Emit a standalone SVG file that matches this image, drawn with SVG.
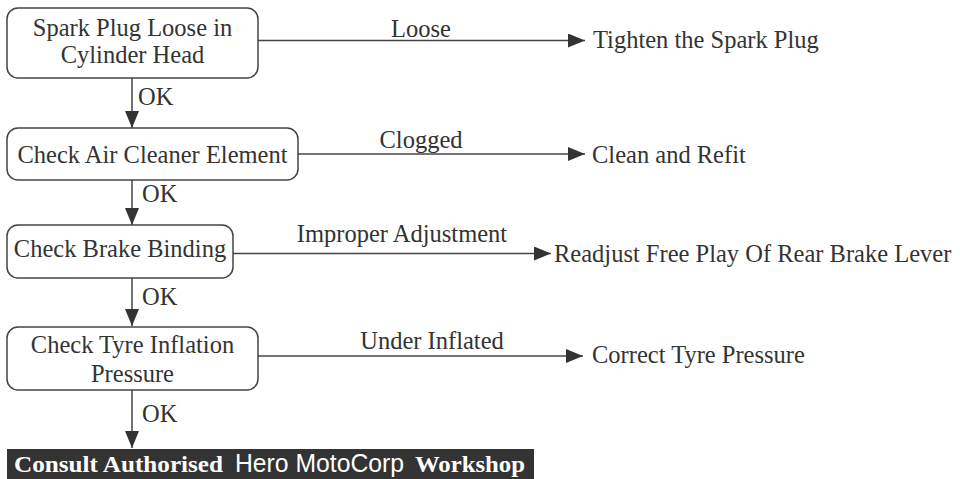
<svg xmlns="http://www.w3.org/2000/svg" width="960" height="479" viewBox="0 0 960 479">
<style>
.box{fill:#fff;stroke:#444;stroke-width:1.5}
.t{font-family:"Liberation Serif",serif;font-size:24.5px;fill:#333}
.m{text-anchor:middle}
.ln{stroke:#444;stroke-width:1.5;fill:none}
.bb{font-family:"Liberation Serif",serif;font-weight:bold;font-size:24px;fill:#fff}
.bs{font-family:"Liberation Sans",sans-serif;font-size:25px;fill:#fff}
</style>
<defs>
<marker id="ah" markerWidth="17" markerHeight="14" refX="17" refY="7" orient="auto" markerUnits="userSpaceOnUse">
<path d="M0,0 L17,7 L0,14 Z" fill="#333"/>
</marker>
</defs>
<rect width="960" height="479" fill="#fff"/>
<g id="connectors">
<line class="ln" x1="258" y1="40.5" x2="585" y2="40.5" marker-end="url(#ah)"/>
<line class="ln" x1="298" y1="154" x2="585" y2="154" marker-end="url(#ah)"/>
<line class="ln" x1="233" y1="253.5" x2="551" y2="253.5" marker-end="url(#ah)"/>
<line class="ln" x1="258" y1="356" x2="583" y2="356" marker-end="url(#ah)"/>
<line class="ln" x1="132" y1="78" x2="132" y2="128" marker-end="url(#ah)"/>
<line class="ln" x1="132" y1="180" x2="132" y2="225" marker-end="url(#ah)"/>
<line class="ln" x1="132" y1="278" x2="132" y2="326" marker-end="url(#ah)"/>
<line class="ln" x1="132" y1="390" x2="132" y2="448" marker-end="url(#ah)"/>
<text class="t m" x="421" y="37">Loose</text>
<text class="t m" x="421" y="148">Clogged</text>
<text class="t m" x="402" y="242">Improper Adjustment</text>
<text class="t m" x="432" y="349">Under Inflated</text>
<text class="t" x="138" y="105">OK</text>
<text class="t" x="142" y="202">OK</text>
<text class="t" x="142" y="305">OK</text>
<text class="t" x="142" y="422">OK</text>
</g>
<g id="n1">
<rect class="box" x="7" y="8" width="251" height="70" rx="11"/>
<text class="t m" x="132.5" y="36">Spark Plug Loose in</text>
<text class="t m" x="132.5" y="63">Cylinder Head</text>
</g>
<g id="n2">
<rect class="box" x="7" y="128" width="291" height="52" rx="11"/>
<text class="t m" x="152.5" y="163">Check Air Cleaner Element</text>
</g>
<g id="n3">
<rect class="box" x="7" y="225" width="226" height="53" rx="11"/>
<text class="t m" x="120" y="257">Check Brake Binding</text>
</g>
<g id="n4">
<rect class="box" x="7" y="327" width="251" height="63" rx="11"/>
<text class="t m" x="132.5" y="353">Check Tyre Inflation</text>
<text class="t m" x="132.5" y="382">Pressure</text>
</g>
<g id="r1"><text class="t" x="593" y="48">Tighten the Spark Plug</text></g>
<g id="r2"><text class="t" x="592" y="163">Clean and Refit</text></g>
<g id="r3"><text class="t" x="554" y="262">Readjust Free Play Of Rear Brake Lever</text></g>
<g id="r4"><text class="t" x="592" y="363">Correct Tyre Pressure</text></g>
<g id="final">
<rect x="7" y="449" width="527" height="30" fill="#333"/>
<text class="bb" x="14" y="472" textLength="209" lengthAdjust="spacingAndGlyphs">Consult Authorised</text>
<text class="bs" x="235" y="472" textLength="169" lengthAdjust="spacingAndGlyphs">Hero MotoCorp</text>
<text class="bb" x="415" y="472" textLength="110" lengthAdjust="spacingAndGlyphs">Workshop</text>
</g>
</svg>
